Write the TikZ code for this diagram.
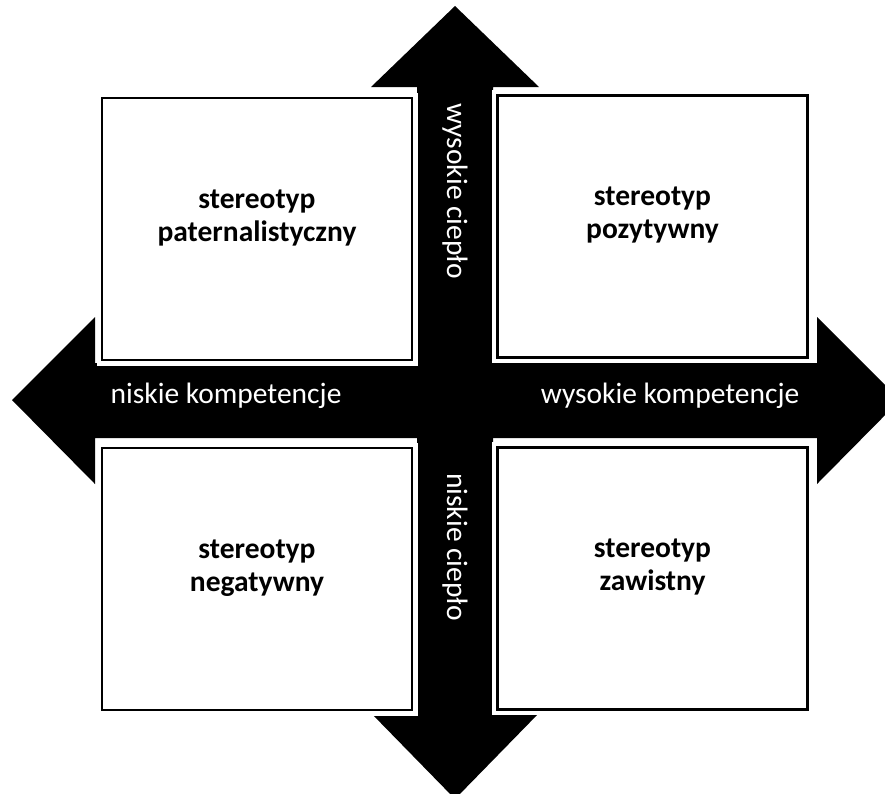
\documentclass[tikz,border=0pt]{standalone}
\usepackage{fontspec}
\setmainfont{Carlito}
\newcommand{\quadfont}{\fontsize{29.5}{33}\selectfont}

\begin{document}
\begin{tikzpicture}[x=1pt, y=-1pt,
              quad/.style={draw, line width=2.5pt, fill=white, inner sep=0pt, outer sep=0pt,
                minimum width=310pt, minimum height=262pt,
                preaction={draw=white, line width=11pt}},
              quadtext/.style={font=\quadfont\bfseries, align=center},
              axistext/.style={font=\quadfont, text=white, inner sep=0pt}
            ]
              \useasboundingbox (0,0) rectangle (885,793);
              \clip (0,0) rectangle (885,793);
              % axes
              \fill (455,6) -- (539,87) -- (493,87) -- (493,713) -- (539,713) -- (455,799)
                -- (371,713) -- (417,713) -- (417,87) -- (371,87) -- cycle;
              \fill (12,400) -- (95,317) -- (95,363) -- (817,363) -- (817,317) -- (900,400)
                -- (817,484) -- (817,438) -- (95,438) -- (95,484) -- cycle;
              % quadrants
              \node[quad] (tl) at (257,229) {};
              \node[quad] (tr) at (652.5,226.5) {};
              \node[quad] (bl) at (257,579) {};
              \node[quad] (br) at (652.5,578.5) {};
              \node[quadtext] (tltext) at ([yshift=11pt]tl.center) {stereotyp\\paternalistyczny};
              \node[quadtext] (trtext) at ([yshift=11pt]tr.center) {stereotyp\\pozytywny};
              \node[quadtext] (bltext) at ([yshift=11pt]bl.center) {stereotyp\\negatywny};
              \node[quadtext] (brtext) at ([yshift=11pt]br.center) {stereotyp\\zawistny};
              % axis labels
              \node[axistext, anchor=base] (lowcomp) at (226,403) {niskie kompetencje};
              \node[axistext, anchor=base] (highcomp) at (670,403) {wysokie kompetencje};
              \node[axistext, rotate=-90] (highwarm) at (455,191) {wysokie ciepło};
              \node[axistext, rotate=-90] (lowwarm) at (455,547) {niskie ciepło};
            \end{tikzpicture}
\end{document}
